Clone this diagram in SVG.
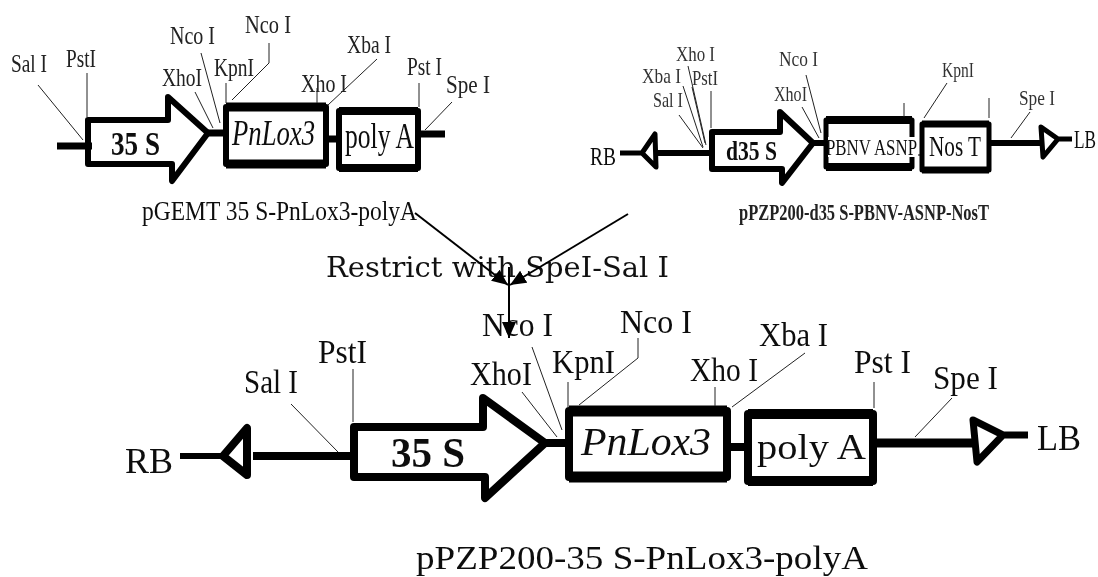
<svg xmlns="http://www.w3.org/2000/svg" width="1098" height="577" viewBox="0 0 1098 577">
<style>
text{font-family:"Liberation Serif","Times New Roman",serif;fill:#111}
.a{font-size:26px;fill:#222}.b{font-size:22px;fill:#333}.c{font-size:34px}
.s{fill:none;stroke:#000;stroke-linejoin:round}
.t{fill:none;stroke:#222;stroke-width:1}
.k{fill:none;stroke:#000;stroke-width:2}
</style>
<defs>
<filter id="soft" x="-2%" y="-2%" width="104%" height="104%"><feGaussianBlur stdDeviation="0.5"/></filter>
<marker id="ah" markerWidth="18" markerHeight="14" refX="16" refY="7" orient="auto" markerUnits="userSpaceOnUse"><path d="M0 0L16 7L0 14z" fill="#000"/></marker>
</defs>
<rect width="1098" height="577" fill="#fff"/>
<g id="plasmid-a" filter="url(#soft)">
<g id="a-backbone"><path class="s" stroke-width="7" d="M57 146H92M208 133H226M326 139H340M418 134H445"/></g>
<g id="a-35s"><path class="s" stroke-width="6" d="M88 120H168V97L208 133L172 181V164H88Z"/><text x="111" y="155" style="font-size:33px;font-weight:bold" textLength="49" lengthAdjust="spacingAndGlyphs">35 S</text></g>
<g id="a-pnlox3"><path class="s" stroke-width="6" d="M226 107V164H326V107Z"/><path class="s" stroke-width="9" d="M226 107H326M226 164H326"/><text x="232" y="145" style="font-size:36px;font-style:italic" textLength="83" lengthAdjust="spacingAndGlyphs">PnLox3</text></g>
<g id="a-polya"><path class="s" stroke-width="6" d="M339 111V168H418V111Z"/><path class="s" stroke-width="8" d="M339 111H418M339 168H418"/><text x="345" y="148" style="font-size:36px" textLength="69" lengthAdjust="spacingAndGlyphs">poly A</text></g>
<g id="a-sites">
<path class="t" d="M38 85L83 140M87 73V117M195 92L213 128M201 53L220 123M226 83V103M232 100L269 63V43M317 88V103M328 105L377 59M419 83V107M425 130L452 102"/>
<text class="a" x="11" y="72" textLength="36" lengthAdjust="spacingAndGlyphs">Sal I</text><text class="a" x="66" y="67" textLength="30" lengthAdjust="spacingAndGlyphs">PstI</text><text class="a" x="170" y="44" textLength="45" lengthAdjust="spacingAndGlyphs">Nco I</text><text class="a" x="245" y="33" textLength="46" lengthAdjust="spacingAndGlyphs">Nco I</text><text class="a" x="162" y="86" textLength="40" lengthAdjust="spacingAndGlyphs">XhoI</text><text class="a" x="214" y="76" textLength="40" lengthAdjust="spacingAndGlyphs">KpnI</text><text class="a" x="301" y="92" textLength="46" lengthAdjust="spacingAndGlyphs">Xho I</text><text class="a" x="347" y="53" textLength="44" lengthAdjust="spacingAndGlyphs">Xba I</text><text class="a" x="407" y="75" textLength="35" lengthAdjust="spacingAndGlyphs">Pst I</text><text class="a" x="446" y="93" textLength="44" lengthAdjust="spacingAndGlyphs">Spe I</text>
</g>
<text id="a-title" x="142" y="220" style="font-size:27px" textLength="275" lengthAdjust="spacingAndGlyphs">pGEMT 35 S-PnLox3-polyA</text>
</g>
<g id="plasmid-b" filter="url(#soft)">
<g id="b-backbone"><path class="s" stroke-width="5" d="M620 153H642L655 134L656 167L642 153"/><path class="s" stroke-width="6" d="M657 153H711M813 143H826M989 143H1041"/><path class="s" stroke-width="1" d="M912 155H922"/><path class="s" stroke-width="5" d="M1041 127L1058 139L1043 157ZM1058 139H1072"/></g>
<g id="b-d35s"><path class="s" stroke-width="6" d="M712 132H780V112L813 143L782 183V169H712Z"/><text x="726" y="160" style="font-size:27px;font-weight:bold" textLength="51" lengthAdjust="spacingAndGlyphs">d35 S</text></g>
<g id="b-pbnv"><path class="s" stroke-width="5" d="M826 120V167H912V120Z"/><path class="s" stroke-width="8" d="M826 120H912M826 167H912"/><rect x="828" y="137" width="90" height="20" fill="#fff"/><text transform="translate(826 155) scale(1 1.44)" style="font-size:16px" textLength="91" lengthAdjust="spacingAndGlyphs">PBNV ASNP</text></g>
<g id="b-nost"><path class="s" stroke-width="5" d="M922 124V170H989V124Z"/><path class="s" stroke-width="7" d="M922 124H989M922 170H989"/><text x="929" y="156" style="font-size:30px" textLength="52" lengthAdjust="spacingAndGlyphs">Nos T</text></g>
<g id="b-sites">
<path class="t" d="M679 115L703 148M683 86L703 147M688 66L706 145M692 87L705 143M711 91V128M802 107L819 138M806 75L821 133M904 103V117M924 118L947 83M989 98V118M1011 138L1030 112"/>
<text class="b" x="676" y="61" textLength="39" lengthAdjust="spacingAndGlyphs">Xho I</text><text class="b" x="642" y="83" textLength="39" lengthAdjust="spacingAndGlyphs">Xba I</text><text class="b" x="692" y="85" textLength="26" lengthAdjust="spacingAndGlyphs">PstI</text><text class="b" x="653" y="107" textLength="30" lengthAdjust="spacingAndGlyphs">Sal I</text><text class="b" x="779" y="66" textLength="39" lengthAdjust="spacingAndGlyphs">Nco I</text><text class="b" x="774" y="101" textLength="33" lengthAdjust="spacingAndGlyphs">XhoI</text><text class="b" x="942" y="77" textLength="32" lengthAdjust="spacingAndGlyphs">KpnI</text><text class="b" x="1019" y="105" textLength="36" lengthAdjust="spacingAndGlyphs">Spe I</text>
</g>
<text x="590" y="165" style="font-size:25px" textLength="26" lengthAdjust="spacingAndGlyphs">RB</text><text transform="translate(1074 148) scale(1 1.3)" style="font-size:19px" textLength="22" lengthAdjust="spacingAndGlyphs">LB</text>
<text id="b-title" transform="translate(739 220) scale(1 1.6)" style="font-size:15px;font-weight:bold;fill:#222" textLength="250" lengthAdjust="spacingAndGlyphs">pPZP200-d35 S-PBNV-ASNP-NosT</text>
</g>
<g id="plasmid-c" filter="url(#soft)">
<g id="c-backbone"><path class="s" stroke-width="6" d="M180 456H223"/><path class="s" stroke-width="8" d="M223 456L247 428L247 475ZM253 456H354M545 443H566M727 447H748"/><path class="s" stroke-width="9" d="M874 443H973"/><path class="s" stroke-width="7" d="M973 420L1003 435L977 462ZM1003 435H1028"/></g>
<g id="c-35s"><path class="s" stroke-width="8" d="M354 427H483V398L545 443L485 498V477H354Z"/><text x="391" y="467" style="font-size:42px;font-weight:bold" textLength="74" lengthAdjust="spacingAndGlyphs">35 S</text></g>
<g id="c-pnlox3"><path class="s" stroke-width="8" d="M569 411V477H727V411Z"/><path class="s" stroke-width="11" d="M569 411H727M569 477H727"/><text x="581" y="455" style="font-size:40px;font-style:italic" textLength="130" lengthAdjust="spacingAndGlyphs">PnLox3</text></g>
<g id="c-polya"><path class="s" stroke-width="8" d="M748 414V481H873V414Z"/><path class="s" stroke-width="10" d="M748 414H873M748 481H873"/><text x="757" y="459" style="font-size:36px" textLength="109" lengthAdjust="spacingAndGlyphs">poly A</text></g>
<g id="c-sites">
<path class="t" d="M291 404L338 452M353 369V422M522 392L557 437M532 347L562 430M568 382V407M579 405L638 358V338M715 387V406M732 407L805 353M874 382V408M915 437L952 398"/>
<text class="c" x="244" y="393" textLength="54" lengthAdjust="spacingAndGlyphs">Sal I</text><text class="c" x="318" y="363" textLength="49" lengthAdjust="spacingAndGlyphs">PstI</text><text class="c" x="482" y="336" textLength="71" lengthAdjust="spacingAndGlyphs">Nco I</text><text class="c" x="620" y="333" textLength="72" lengthAdjust="spacingAndGlyphs">Nco I</text><text class="c" x="470" y="385" textLength="62" lengthAdjust="spacingAndGlyphs">XhoI</text><text class="c" x="552" y="373" textLength="63" lengthAdjust="spacingAndGlyphs">KpnI</text><text class="c" x="690" y="381" textLength="68" lengthAdjust="spacingAndGlyphs">Xho I</text><text class="c" x="759" y="346" textLength="69" lengthAdjust="spacingAndGlyphs">Xba I</text><text class="c" x="854" y="373" textLength="57" lengthAdjust="spacingAndGlyphs">Pst I</text><text class="c" x="933" y="389" textLength="65" lengthAdjust="spacingAndGlyphs">Spe I</text>
</g>
<text x="125" y="473" style="font-size:35px" textLength="48" lengthAdjust="spacingAndGlyphs">RB</text><text x="1037" y="450" style="font-size:35px" textLength="44" lengthAdjust="spacingAndGlyphs">LB</text>
<text id="c-title" x="416" y="569" style="font-size:33px" textLength="452" lengthAdjust="spacingAndGlyphs">pPZP200-35 S-PnLox3-polyA</text>
</g>
<text id="step" x="326" y="277" style="font-family:'DejaVu Serif',serif;font-size:27px" textLength="343" lengthAdjust="spacingAndGlyphs">Restrict with SpeI-Sal I</text>
<g id="connectors">
<path class="k" d="M415 213L508 285" marker-end="url(#ah)"/>
<path class="k" d="M628 214L510 285" marker-end="url(#ah)"/>
<path class="k" d="M509 267V338" marker-end="url(#ah)"/>
</g>
</svg>
